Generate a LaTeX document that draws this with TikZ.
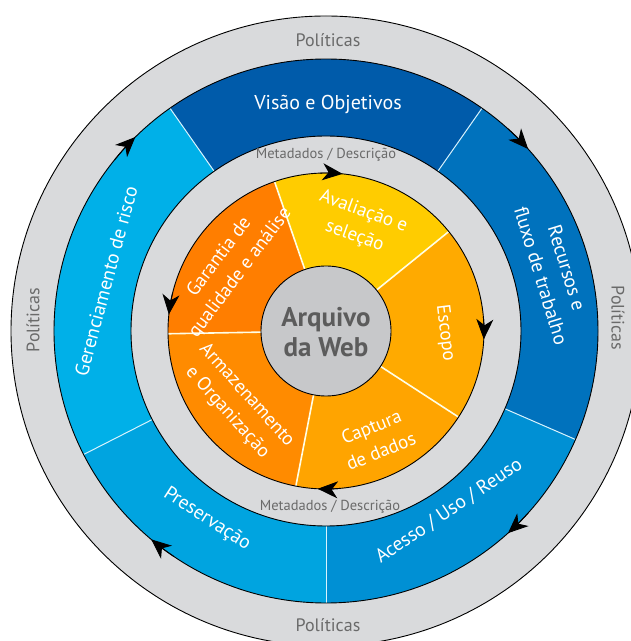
\documentclass[tikz,border=0pt]{standalone}
\usepackage{fontspec}
\setmainfont{PT Sans}
\usetikzlibrary{arrows.meta}
\definecolor{ringgray}{HTML}{D9DADC}
\definecolor{polgray}{HTML}{6A6A6A}
\definecolor{cvisao}{HTML}{005BAA}
\definecolor{crecursos}{HTML}{0072BD}
\definecolor{cacesso}{HTML}{0090D4}
\definecolor{cpreserv}{HTML}{00A4E0}
\definecolor{cgerenc}{HTML}{00B0E8}
\definecolor{cgarantia}{HTML}{FF7E00}
\definecolor{cavalia}{HTML}{FFCC00}
\definecolor{cescopo}{HTML}{FFAA00}
\definecolor{ccaptura}{HTML}{FFA400}
\definecolor{carmazen}{HTML}{FF8B00}
\definecolor{ccenter}{HTML}{C7C8CA}
\definecolor{ctext}{HTML}{5C5C5C}
\newcommand\annsec[5]{% color, a1, a2, r1(outer), r2(inner)
  \fill[#1] (#2:#4) arc[start angle=#2, end angle=#3, radius=#4] -- (#3:#5) arc[start angle=#3, end angle=#2, radius=#5] -- cycle;}
\tikzset{
  outline/.style={draw=black, line width=0.9pt},
  bluediv/.style={draw=white!85!cyan, line width=1pt},
  orangediv/.style={draw=white!90!yellow, line width=1.6pt},
  cyc/.style={line width=0.9pt, -{Stealth[length=20pt,width=17pt,inset=6pt]}},
  poltext/.style={text=polgray, font=\fontsize{18}{20}\selectfont, inner sep=0pt},
  metatext/.style={text=polgray, font=\fontsize{14.5}{16}\selectfont, inner sep=0pt},
  bluetext/.style={text=white, font=\fontsize{19.5}{27}\selectfont, align=center, inner sep=0pt},
  orangetext/.style={text=white, font=\fontsize{19}{26}\selectfont, align=center, inner sep=0pt},
  centertext/.style={text=ctext, font=\fontsize{27}{30}\selectfont\bfseries, align=center, inner sep=0pt}
}
\begin{document}
\begin{tikzpicture}[x=1pt,y=1pt]
\clip (0,0) rectangle (631,641);
\fill[white] (0,0) rectangle (631,641);
\begin{scope}[shift={(326,310)}]
  % outer gray ring
  \fill[ringgray] (0,0) circle (315);
  \draw[outline] (0,0) circle (315);
  % blue ring
  \annsec{cvisao}{55}{125}{272}{195}
  \annsec{crecursos}{-23.5}{55}{272}{195}
  \annsec{cacesso}{-90}{-23.5}{272}{195}
  \annsec{cpreserv}{-153}{-90}{272}{195}
  \annsec{cgerenc}{125}{207}{272}{195}
  \draw[bluediv] (55:195) -- (55:272);
  \draw[bluediv] (125:195) -- (125:272);
  \draw[bluediv] (-23.5:195) -- (-23.5:272);
  \draw[bluediv] (-90:195) -- (-90:272);
  \draw[bluediv] (207:195) -- (207:272);
  \draw[outline] (0,0) circle (272);
  \draw[outline] (0,0) circle (195);
  % orange ring
  \annsec{cgarantia}{109}{181}{158}{60}
  \annsec{cavalia}{39}{109}{158}{60}
  \annsec{cescopo}{-33}{39}{158}{60}
  \annsec{ccaptura}{-101}{-33}{158}{60}
  \annsec{carmazen}{181}{259}{158}{60}
  \draw[orangediv] (109:64) -- (109:158);
  \draw[orangediv] (39:64) -- (39:158);
  \draw[orangediv] (-33:64) -- (-33:158);
  \draw[orangediv] (-101:64) -- (-101:158);
  \draw[orangediv] (181:64) -- (181:158);
  \draw[outline] (0,0) circle (158);
  % center
  \draw[outline, fill=ccenter] (0,0) circle (65);
  \node[centertext] (arquivo) at (0,-1) {Arquivo\\da Web};
  % outer cycle arrows
  \draw[cyc] (141:272) arc[start angle=141, end angle=134.5, radius=272];
  \draw[cyc] (48:272) arc[start angle=48, end angle=42, radius=272];
  \draw[cyc] (-42:272) arc[start angle=-42, end angle=-48, radius=272];
  \draw[cyc] (-124:272) arc[start angle=-124, end angle=-130, radius=272];
  % inner cycle arrows
  \draw[cyc] (92:158) arc[start angle=92, end angle=84, radius=158];
  \draw[cyc] (5:158) arc[start angle=5, end angle=-3, radius=158];
  \draw[cyc] (-85:158) arc[start angle=-85, end angle=-93, radius=158];
  \draw[cyc] (166:158) arc[start angle=166, end angle=174, radius=158];
  % Politicas
  \node[poltext] (poltop) at (2,291) {Políticas};
  \node[poltext] (polbottom) at (2,-294) {Políticas};
  \node[poltext, rotate=90] (polleft) at (-293,11) {Políticas};
  \node[poltext, rotate=-90] (polright) at (292,13) {Políticas};
  % metadados
  \node[metatext] (metatop) at (0,176) {Metadados / Descrição};
  \node[metatext] (metabottom) at (4,-176) {Metadados / Descrição};
  % blue ring labels
  \node[bluetext, font=\fontsize{20}{22}\selectfont] (visao) at (2,227) {Visão e Objetivos};
  \node[bluetext, rotate=-73] (recursos) at (228,59) {Recursos e\\fluxo de trabalho};
  \node[bluetext, rotate=34] (acesso) at (123,-180) {Acesso / Uso / Reuso};
  \node[bluetext, rotate=-33] (preserv) at (-119,-188) {Preservação};
  \node[bluetext, rotate=75] (gerenc) at (-220,50) {Gerenciamento de risco};
  % orange ring labels
  \node[orangetext, rotate=-20] (avalia) at (33,107) {Avaliação e\\seleção};
  \node[orangetext, rotate=-83] (escopo) at (119,-2) {Escopo};
  \node[orangetext, rotate=22] (captura) at (50,-108) {Captura\\de dados};
  \node[orangetext, rotate=-48] (armazen) at (-89,-73) {Armazenamento\\e Organização};
  \node[orangetext, rotate=53] (garantia) at (-96,66) {Garantia de\\qualidade e análise};
\end{scope}
\end{tikzpicture}
\end{document}
